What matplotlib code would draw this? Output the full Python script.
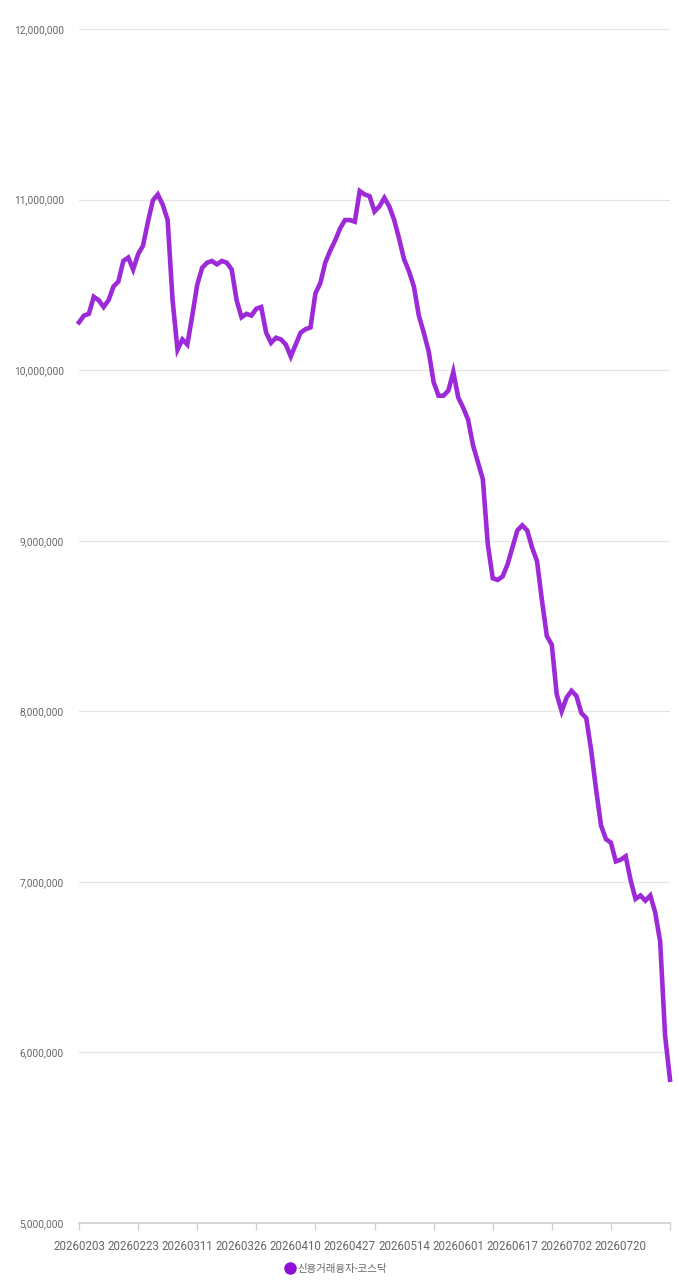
import matplotlib.pyplot as plt
from matplotlib.lines import Line2D
from matplotlib.ticker import FuncFormatter, MultipleLocator

plt.rcParams['font.family'] = ['Roboto', 'Noto Sans CJK KR', 'DejaVu Sans']

# 신용거래융자 - 코스닥 (원), one value per trading day
values = [
    10.28, 10.32, 10.33, 10.43, 10.41, 10.37, 10.41, 10.49, 10.52, 10.64,
    10.66, 10.59, 10.68, 10.73, 10.87, 10.995, 11.03, 10.97, 10.88, 10.41,
    10.12, 10.18, 10.15, 10.32, 10.50, 10.60, 10.63, 10.64, 10.62, 10.64,
    10.63, 10.59, 10.41, 10.31, 10.33, 10.32, 10.36, 10.37, 10.22, 10.16,
    10.19, 10.18, 10.15, 10.08, 10.15, 10.22, 10.24, 10.25, 10.45, 10.51,
    10.63, 10.70, 10.76, 10.83, 10.88, 10.88, 10.87, 11.05, 11.03, 11.02,
    10.93, 10.96, 11.01, 10.96, 10.88, 10.77, 10.65, 10.58, 10.49, 10.32,
    10.22, 10.11, 9.93, 9.85, 9.85, 9.88, 9.99, 9.84, 9.78, 9.71,
    9.56, 9.46, 9.36, 8.98, 8.78, 8.77, 8.79, 8.86, 8.96, 9.06,
    9.09, 9.06, 8.96, 8.88, 8.65, 8.44, 8.39, 8.10, 8.00, 8.08,
    8.12, 8.09, 7.99, 7.96, 7.77, 7.54, 7.33, 7.25, 7.23, 7.12,
    7.13, 7.15, 7.01, 6.90, 6.92, 6.89, 6.92, 6.82, 6.65, 6.10,
    5.84,
]
values = [v * 1_000_000 for v in values]
label_dates = ['20260203', '20260223', '20260311', '20260326', '20260410', '20260427',
               '20260514', '20260601', '20260617', '20260702', '20260720']
series_name = '신용거래융자-코스닥'

line_color = '#9c2ad8'
text_color = '#666666'

fig = plt.figure(figsize=(6.79, 12.8), dpi=100)
ax = fig.add_axes([79 / 679, 1 - 1223 / 1280, 591 / 679, 1194 / 1280])

x = list(range(len(values)))
ax.plot(x, values, color=line_color, lw=3.3, solid_joinstyle='miter', zorder=3, clip_on=False)

ax.set_xlim(0, len(values) - 1)
ax.set_ylim(5_000_000, 12_000_000)

# y axis: grid every million, no tick marks
ax.yaxis.set_major_locator(MultipleLocator(1_000_000))
ax.yaxis.set_major_formatter(FuncFormatter(lambda v, p: f'{int(v):,}'))
ax.tick_params(axis='y', length=0, pad=11, labelsize=7.3, labelcolor=text_color)
ax.grid(axis='y', color='#e4e4e4', lw=0.9)
ax.set_axisbelow(True)

# x axis: tick marks every 12 days, labels every 11 days
ax.xaxis.remove_overlapping_locs = False
ax.set_xticks(range(0, len(values), 12))
ax.set_xticklabels([])
ax.tick_params(axis='x', which='major', length=5, width=0.9, color='#cfcfcf')
ax.set_xticks(range(0, 11 * len(label_dates), 11), minor=True)
ax.set_xticklabels(label_dates, minor=True)
ax.tick_params(axis='x', which='minor', length=0, pad=12, labelsize=8.3, labelcolor=text_color)

for s in ['top', 'right', 'left']:
    ax.spines[s].set_visible(False)
ax.spines['bottom'].set_color('#cfcfcf')
ax.spines['bottom'].set_linewidth(1.2)

handle = Line2D([], [], ls='none', marker='o', ms=8, color='#8f0fd6')
fig.legend([handle], [series_name], loc='center', bbox_to_anchor=(0.495, 1 - 1269 / 1280),
           frameon=False, fontsize=7.5, labelcolor=text_color, handletextpad=0.25,
           handlelength=1.0)

fig.savefig('out.png', dpi=100)
